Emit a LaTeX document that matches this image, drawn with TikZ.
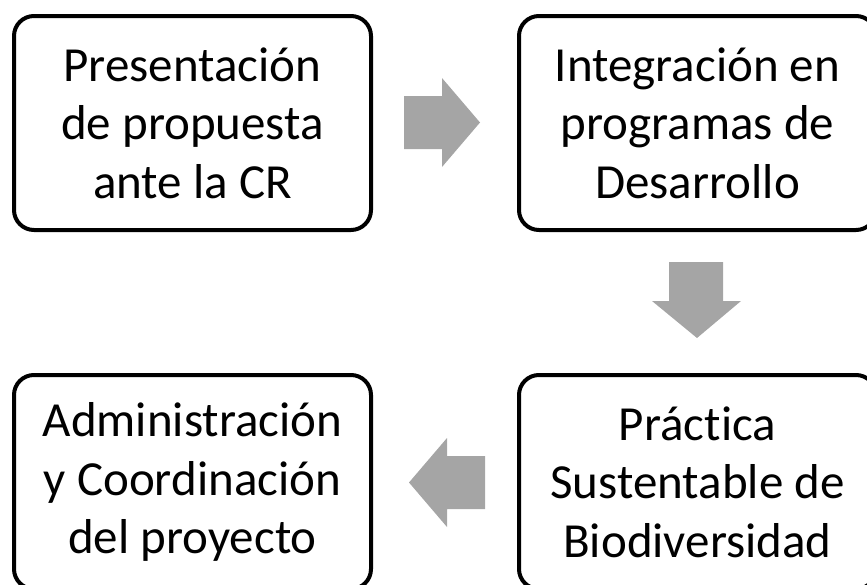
\documentclass[tikz,border=0pt]{standalone}
\usepackage{fontspec}
\setmainfont{Carlito}[Ligatures={NoCommon,NoRequired}]
\definecolor{arrowgray}{HTML}{A5A5A5}
\tikzset{
  stepbox/.style={draw=black, line width=4pt, rounded corners=20pt, rectangle,
    minimum width=357pt, minimum height=214pt, inner sep=0pt, align=center,
    font=\fontsize{49}{58.5}\selectfont},
  blockarrow/.style={fill=arrowgray, draw=none}
}
\begin{document}
\begin{tikzpicture}[x=1pt,y=-1pt]
\useasboundingbox (0,0) rectangle (867,584);
\clip (0,0) rectangle (867,584);
\node[stepbox] (a) at (192.5,123) {Presentación\\de propuesta\\ante la CR};
\node[stepbox] (b) at (697.5,123) {Integración en\\programas de\\Desarrollo};
\node[stepbox] (c) at (697.5,482) {Práctica\\Sustentable de\\Biodiversidad};
\node[stepbox] (d) at (192.5,482) {Administración\\y Coordinación\\del proyecto};
% right arrow a -> b
\fill[blockarrow] (404,96) -- (442,96) -- (442,78) -- (480,122.5) -- (442,167) -- (442,149) -- (404,149) -- cycle;
% down arrow b -> c
\fill[blockarrow] (669,262) -- (723,262) -- (723,301) -- (741,301) -- (697,338) -- (652,301) -- (669,301) -- cycle;
% left arrow c -> d
\fill[blockarrow] (485,456) -- (447,456) -- (447,438) -- (409,482.5) -- (447,527) -- (447,509) -- (485,509) -- cycle;
\end{tikzpicture}
\end{document}
